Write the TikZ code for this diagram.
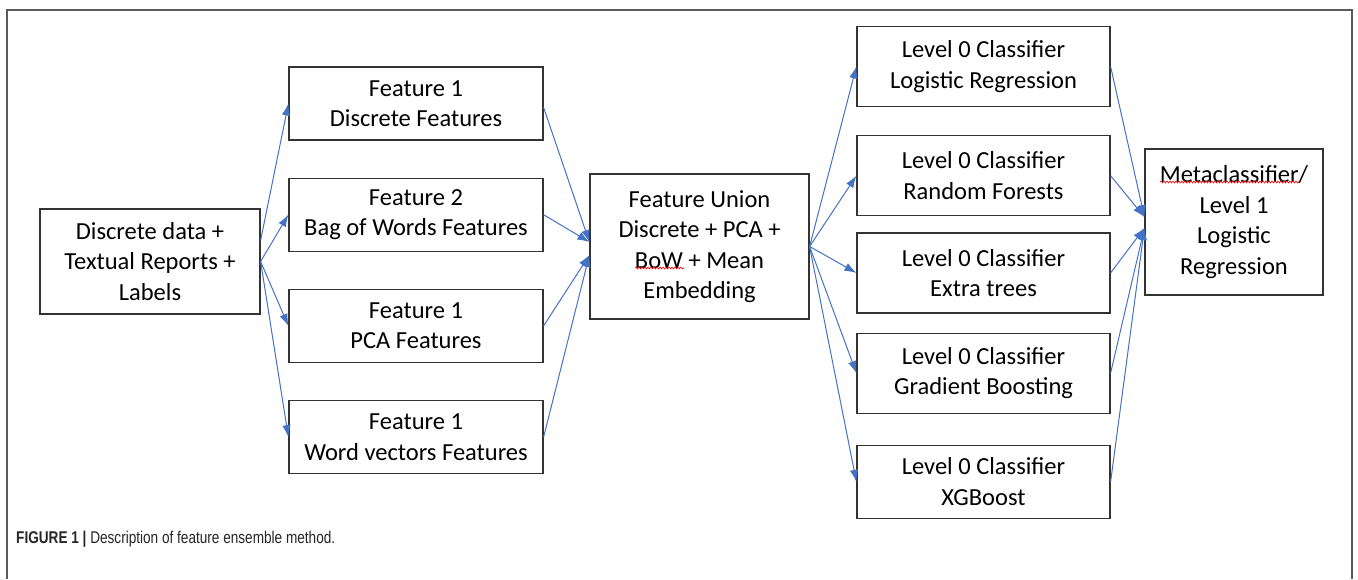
\documentclass[tikz,border=0pt]{standalone}
\usepackage{fontspec}
\setmainfont{Carlito}
\newfontfamily\capfont{Liberation Sans}
\usetikzlibrary{positioning, arrows.meta, decorations.pathmorphing}
\definecolor{arrowblue}{HTML}{4472C4}
\definecolor{framegray}{HTML}{5A5A5A}
\tikzset{
x=1pt, y=-1pt, % pixel-like units, y grows downward
node distance=37pt, % gap between stacked boxes
block/.style={draw=black!80, line width=1.2pt, align=center, inner sep=2pt, font=\fontsize{24.5}{30.5}\selectfont}, % every box
feat/.style={block, minimum width=254pt, minimum height=73pt}, % feature boxes
clf/.style={block, minimum width=253pt, minimum height=80pt}, % level 0 classifiers
flow/.style={-{Latex[length=12pt,width=8.5pt]}, arrowblue, line width=1pt}, % blue connectors
squiggle/.style={red, line width=0.6pt, decorate, decoration={snake, amplitude=1pt, segment length=3pt}}, % spell-check marks
}

\begin{document}
\begin{tikzpicture}
\useasboundingbox (0,0) rectangle (1358,579);
\draw[framegray, line width=1.5pt] (7,579) -- (7,10) -- (1352,10) -- (1352,579);

\node[block, minimum width=220pt, minimum height=105pt] (src) at (150,261.5) {Discrete data +\\Textual Reports +\\Labels};

\node[feat] (f1) at (416,103.5) {Feature 1\\Discrete Features};
\node[feat, below=of f1] (f2) {Feature 2\\Bag of Words Features};
\node[feat, below=of f2] (pca) {Feature 1\\PCA Features};
\node[feat, below=of pca] (wv) {Feature 1\\Word vectors Features};

\node[block, minimum width=219pt, minimum height=145pt] (union) at (699.5,246.5) {Feature Union\\Discrete + PCA +\\BoW + Mean\\Embedding};

\node[clf] (lr) at (983.5,66.5) {Level 0 Classifier\\Logistic Regression};
\node[clf, below=28pt of lr] (rf) {Level 0 Classifier\\Random Forests};
\node[clf, below=16pt of rf] (et) {Level 0 Classifier\\Extra trees};
\node[clf, below=19pt of et] (gb) {Level 0 Classifier\\Gradient Boosting};
\node[clf, minimum height=73pt, below=31pt of gb] (xg) {Level 0 Classifier\\XGBoost};

\node[block, minimum width=178pt, minimum height=146pt] (meta) at (1234,222) {Metaclassifier/\\Level 1\\Logistic\\Regression};

% spell-check marks
\draw[squiggle] (635,268) -- (684,268);
\draw[squiggle] (1160,182) -- (1299,182);

% inputs to features
\draw[flow] ([yshift=21pt]src.east) -- (f1.west);
\draw[flow] (src.east) -- (f2.west);
\draw[flow] (src.east) -- (pca.west);
\draw[flow] (src.east) -- (wv.west);

% features to union
\draw[flow] ([yshift=-4pt]f1.east) -- ([yshift=4.5pt]union.west);
\draw[flow] (f2.east) -- ([yshift=4.5pt]union.west);
\draw[flow] (pca.east) -- ([yshift=-8.5pt]union.west);
\draw[flow] (wv.east) -- ([yshift=-8.5pt]union.west);

% union to level 0
\foreach \c in {lr, rf, et, gb, xg}
  \draw[flow] (union.east) -- (\c.west);

% level 0 to meta
\draw[flow] (lr.east) -- ([yshift=5pt]meta.west);
\draw[flow] (rf.east) -- ([yshift=5pt]meta.west);
\draw[flow] (et.east) -- ([yshift=-6pt]meta.west);
\draw[flow] (gb.east) -- ([yshift=-6pt]meta.west);
\draw[flow] (xg.east) -- ([yshift=-6pt]meta.west);

\node[anchor=base west, inner sep=0pt, text=black!85, font=\capfont\fontsize{17}{20}\selectfont] (cap) at (16,543) {\scalebox{0.8}[1]{{\bfseries FIGURE 1 |} Description of feature ensemble method.}};
\end{tikzpicture}
\end{document}
